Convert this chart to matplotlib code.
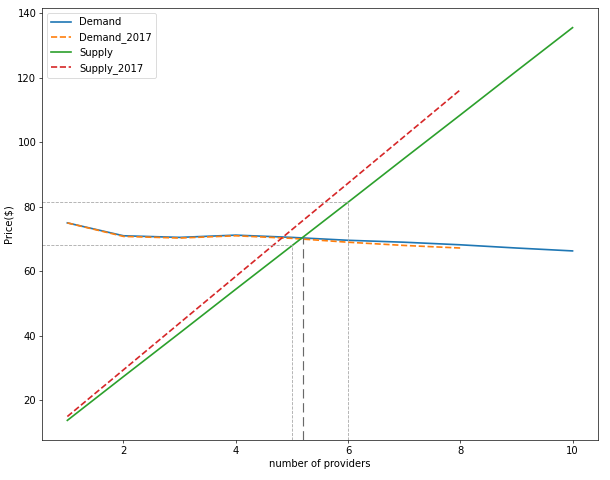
import matplotlib
matplotlib.use("Agg")
import matplotlib.pyplot as plt

# providers and prices
providers = [1, 2, 3, 4, 5, 6, 7, 8, 9, 10]
demand = [75.0, 71.0, 70.5, 71.2, 70.5, 69.6, 69.0, 68.2, 67.2, 66.3]
supply = [13.7, 27.3, 40.8, 54.4, 67.9, 81.4, 95.0, 108.5, 122.1, 135.6]

providers_2017 = [1, 2, 3, 4, 5, 6, 7, 8]
demand_2017 = [75.0, 70.8, 70.3, 71.0, 70.2, 69.0, 68.0, 67.2]
supply_2017 = [14.9, 29.4, 43.9, 58.4, 72.9, 87.3, 101.8, 116.3]

# reference guides: (x, price) pairs
guides = [(5, 68.0), (6, 81.4)]
equilibrium = (5.2, 70.3)

plt.rcParams["font.size"] = 12

fig = plt.figure(figsize=(610 / 60, 8), dpi=60)
ax = fig.add_axes([0.069, 0.0833, 0.911, 0.9])

ax.plot(providers, demand, color="tab:blue", label="Demand", lw=2)
ax.plot(providers_2017, demand_2017, color="tab:orange", ls="--", label="Demand_2017", lw=2)
ax.plot(providers, supply, color="tab:green", label="Supply", lw=2)
ax.plot(providers_2017, supply_2017, color="tab:red", ls="--", label="Supply_2017", lw=2)

x0, x1 = ax.get_xlim()
y0, y1 = ax.get_ylim()

for gx, gy in guides:
    ax.plot([x0, gx], [gy, gy], color="darkgrey", ls="--", lw=1)
    ax.plot([gx, gx], [y0, gy], color="darkgrey", ls="--", lw=1)
ax.plot([equilibrium[0]] * 2, [y0, equilibrium[1]], color="dimgray", ls=(0, (8, 4)), lw=1.4)

ax.set_xlim(x0, x1)
ax.set_ylim(y0, y1)
ax.set_xlabel("number of providers")
ax.set_ylabel("Price($)")
ax.legend(loc="upper left")

fig.savefig("out.png", dpi=60)
